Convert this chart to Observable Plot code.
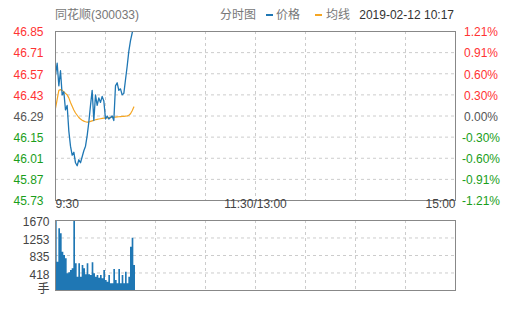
<!DOCTYPE html>
<html>
<head>
<meta charset="utf-8">
<script src="https://cdn.jsdelivr.net/npm/d3@7"></script>
<script src="https://cdn.jsdelivr.net/npm/@observablehq/plot@0.6"></script>
<style>
  html, body { margin: 0; padding: 0; background: #fff; }
  #wrap { position: relative; width: 505px; height: 310px; overflow: hidden;
          font-family: "Liberation Sans", Arial, "Noto Sans CJK SC", sans-serif; font-size: 12px; }
  .hd { position: absolute; top: 9px; line-height: 12px; white-space: nowrap; color: #777; }
  .dash { position: absolute; top: 14px; width: 7px; height: 2px; }
  #wrap svg { position: absolute; left: 0; }
</style>
</head>
<body>
<div id="wrap"></div>
<script>
// ---- data ----
const stockName = "同花顺(300033)";
const chartLabel = "分时图";
const seriesNames = ["价格", "均线"];
const stamp = "2019-02-12 10:17";

const priceTicks = [46.85, 46.71, 46.57, 46.43, 46.29, 46.15, 46.01, 45.87, 45.73];
const pctLabels = ["1.21%", "0.91%", "0.60%", "0.30%", "0.00%", "-0.30%", "-0.60%", "-0.91%", "-1.21%"];
const prevClose = 46.29;
const timeTicks = [0, 120, 240];
const timeLabels = ["9:30", "11:30/13:00", "15:00"];
const gridMinutes = [30, 60, 90, 120, 150, 180, 210];
const volTicks = [1670, 1253, 835, 418];
const volUnit = "手";

const price = [46.56, 46.64, 46.49, 46.59, 46.43, 46.45, 46.33, 46.36, 46.19, 46.09,
  46.03, 46.05, 45.98, 45.96, 46.00, 45.98, 46.02, 46.06, 46.09, 46.16,
  46.25, 46.36, 46.46, 46.26, 46.43, 46.36, 46.41, 46.38, 46.42, 46.39,
  46.27, 46.29, 46.27, 46.28, 46.29, 46.26, 46.49, 46.51, 46.46, 46.47,
  46.43, 46.44, 46.53, 46.62, 46.72, 46.79, 46.84, 46.89];
const avgPrice = [46.34, 46.40, 46.46, 46.465, 46.46, 46.45, 46.44, 46.43, 46.41, 46.38,
  46.355, 46.33, 46.31, 46.295, 46.28, 46.27, 46.262, 46.256, 46.252, 46.25,
  46.25, 46.254, 46.258, 46.262, 46.265, 46.268, 46.27, 46.272, 46.274, 46.276,
  46.277, 46.278, 46.279, 46.28, 46.281, 46.282, 46.283, 46.284, 46.285, 46.286,
  46.287, 46.288, 46.289, 46.29, 46.295, 46.305, 46.325, 46.35];
const volume = [1670, 676, 1471, 1352, 914, 835, 755, 398, 421, 477,
  517, 1670, 636, 318, 636, 318, 596, 517, 374, 636,
  374, 358, 660, 398, 318, 358, 294, 358, 278, 477,
  239, 199, 358, 159, 159, 501, 239, 159, 501, 159,
  358, 159, 437, 159, 318, 1033, 1247, 596];

// ---- styles ----
const BLUE = "#1f77b4", ORANGE = "#f5a623", RED = "#f33", GREEN = "#1a9e1a", NEUTRAL = "#555";
const FONT = '"Liberation Sans", Arial, "Noto Sans CJK SC", sans-serif';
const colorFor = v => Math.abs(v - prevClose) < 1e-6 ? NEUTRAL : (v > prevClose ? RED : GREEN);

const minutes = price.map((_, i) => i);
const priceRows = minutes.map(i => ({m: i, p: price[i], a: avgPrice[i]}));
// step area: each bar spans [m, m+1]; closing point repeats the last bar's value
const volRows = volume.map((v, i) => ({m: i, v}));
volRows.push({m: volume.length, v: volume[volume.length - 1]});
const pctRows = priceTicks.map((t, i) => ({t, label: pctLabels[i]}));
const timeRows = timeLabels.map((label, i) => ({label, m: timeTicks[i]}));

const wrap = document.getElementById("wrap");

// ---- header ----
function hd(text, left, color, right) {
  const s = document.createElement("div");
  s.className = "hd";
  s.textContent = text;
  if (right != null) s.style.right = right + "px"; else s.style.left = left + "px";
  if (color) s.style.color = color;
  wrap.appendChild(s);
}
function dash(left, color) {
  const d = document.createElement("div");
  d.className = "dash";
  d.style.left = left + "px";
  d.style.background = color;
  wrap.appendChild(d);
}
hd(stockName, 55, "#777");
hd(chartLabel, 220, "#777");
dash(266, BLUE); hd(seriesNames[0], 276, "#777");
dash(315, ORANGE); hd(seriesNames[1], 326, "#777");
hd(stamp, null, "#333", 51);

const grid = {stroke: "#ccc", strokeDasharray: "3,3", strokeWidth: 1};

// ---- price panel ----
const p1 = Plot.plot({
  width: 505, height: 215,
  marginTop: 31, marginBottom: 15, marginLeft: 55, marginRight: 50,
  x: {domain: [0, 240], axis: null},
  y: {domain: [45.73, 46.85], axis: null},
  style: {fontSize: "12px", fontFamily: FONT, background: "transparent", overflow: "visible"},
  marks: [
    Plot.ruleX(gridMinutes, {...grid}),
    Plot.ruleY(priceTicks.slice(1, -1), {...grid}),
    Plot.line(priceRows, {x: "m", y: "a", stroke: ORANGE, strokeWidth: 1.2, clip: true}),
    Plot.line(priceRows, {x: "m", y: "p", stroke: BLUE, strokeWidth: 1.3, clip: true}),
    Plot.frame({stroke: "#888"}),
    Plot.text(priceTicks, {y: d => d, text: d => d.toFixed(2), frameAnchor: "left", dx: -12, dy: 1,
      textAnchor: "end", fill: d => colorFor(d)}),
    Plot.text(pctRows, {y: "t", text: "label", frameAnchor: "right", dx: 25.5, dy: 1,
      textAnchor: "middle", fill: d => colorFor(d.t)}),
    Plot.text(timeRows.slice(0, 1), {x: "m", text: "label", frameAnchor: "bottom", dy: 7, textAnchor: "start", fill: "#444"}),
    Plot.text(timeRows.slice(1, 2), {x: "m", text: "label", frameAnchor: "bottom", dy: 7, textAnchor: "middle", fill: "#444"}),
    Plot.text(timeRows.slice(2, 3), {x: "m", text: "label", frameAnchor: "bottom", dy: 7, textAnchor: "end", fill: "#444"})
  ]
});
p1.style.top = "0px";
wrap.appendChild(p1);

// ---- volume panel ----
const p2 = Plot.plot({
  width: 505, height: 95,
  marginTop: 15, marginBottom: 10, marginLeft: 55, marginRight: 50,
  x: {domain: [0, 240], axis: null},
  y: {domain: [0, 1670], axis: null},
  style: {fontSize: "12px", fontFamily: FONT, background: "transparent", overflow: "visible"},
  marks: [
    Plot.ruleX(gridMinutes, {...grid}),
    Plot.ruleY(volTicks.slice(1), {...grid}),
    Plot.areaY(volRows, {x: "m", y: "v", curve: "step-after", fill: BLUE, clip: true}),
    Plot.frame({stroke: "#888"}),
    Plot.text(volTicks, {y: d => d, text: d => String(d), frameAnchor: "left", dx: -6, dy: 2,
      textAnchor: "end", fill: "#444"}),
    Plot.text([volUnit], {text: d => d, frameAnchor: "bottom-left", dx: -6, dy: 2,
      textAnchor: "end", fill: "#444"})
  ]
});
p2.style.top = "205px";
wrap.appendChild(p2);
</script>
</body>
</html>
